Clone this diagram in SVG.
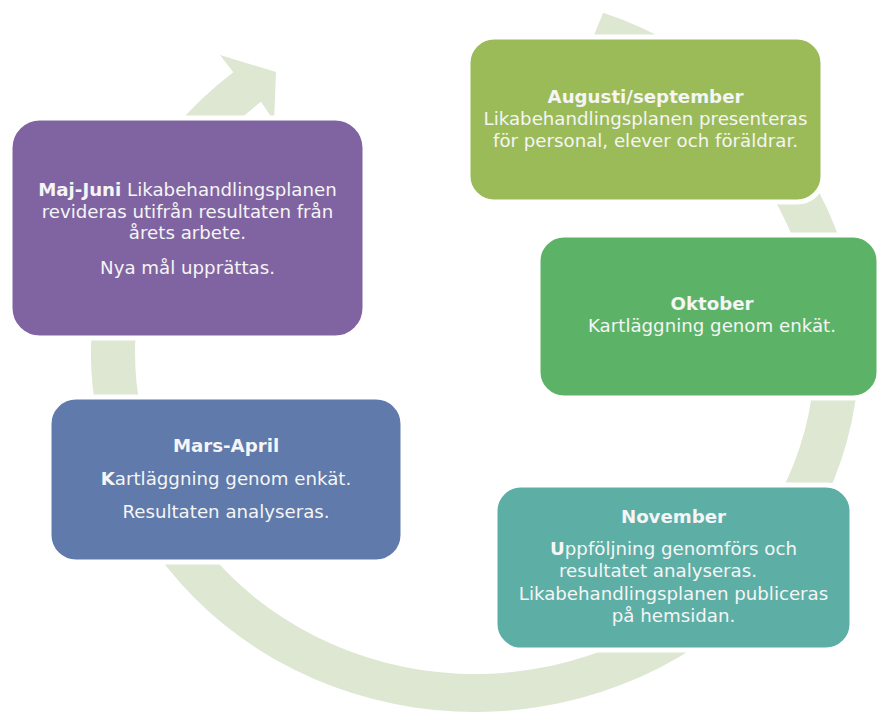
<svg xmlns="http://www.w3.org/2000/svg" width="880" height="715" viewBox="0 0 880 715">
<style>
.box{stroke:#ffffff;stroke-width:5}
.t{font-family:"DejaVu Sans","Liberation Sans",sans-serif;font-size:18.2px;fill:#f5f5f5;text-anchor:middle}
.b{font-weight:bold}
.ring{fill:#dde7d2}
</style>
<rect width="880" height="715" fill="#ffffff"/>
<g id="connectors">
<path class="ring" d="M 603.2 12.7 A 384 360 0 1 1 233.3 72.2 L 220 55 L 276 72 L 274 121 L 261 101.8 A 340 322 0 1 0 588.5 48.5 Z"/>
</g>
<g id="node-maj-juni">
<rect class="box" x="10" y="118" width="355" height="220" rx="30" fill="#8064a2"/>
<text class="t" x="187.5" y="196"><tspan class="b">Maj-Juni</tspan> Likabehandlingsplanen</text>
<text class="t" x="187.5" y="217.5">revideras utifrån resultaten från</text>
<text class="t" x="187.5" y="239">årets arbete.</text>
<text class="t" x="187.5" y="274">Nya mål upprättas.</text>
</g>
<g id="node-augusti">
<rect class="box" x="468" y="37" width="355" height="165" rx="26" fill="#9bbb59"/>
<text class="t b" x="645.5" y="103">Augusti/september</text>
<text class="t" x="645.5" y="125">Likabehandlingsplanen presenteras</text>
<text class="t" x="645.5" y="147">för personal, elever och föräldrar.</text>
</g>
<g id="node-oktober">
<rect class="box" x="538" y="235" width="341" height="163" rx="26" fill="#5cb367"/>
<text class="t b" x="712" y="310">Oktober</text>
<text class="t" x="712" y="332">Kartläggning genom enkät.</text>
</g>
<g id="node-november">
<rect class="box" x="495" y="485" width="357" height="165" rx="26" fill="#5dafa6"/>
<text class="t b" x="673.5" y="523">November</text>
<text class="t" x="673.5" y="555"><tspan class="b">U</tspan>ppföljning genomförs och</text>
<text class="t" x="658" y="577">resultatet analyseras.</text>
<text class="t" x="673.5" y="600">Likabehandlingsplanen publiceras</text>
<text class="t" x="673.5" y="622">på hemsidan.</text>
</g>
<g id="node-mars-april">
<rect class="box" x="49" y="397" width="354" height="165" rx="27" fill="#5f7aab"/>
<text class="t b" x="226" y="452">Mars-April</text>
<text class="t" x="226" y="485"><tspan class="b">K</tspan>artläggning genom enkät.</text>
<text class="t" x="226" y="518">Resultaten analyseras.</text>
</g>
</svg>
